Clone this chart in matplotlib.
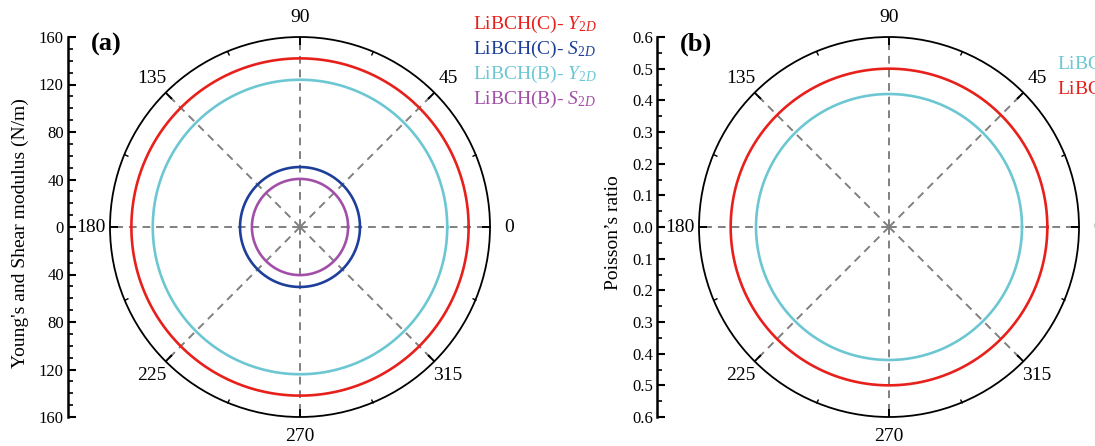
import numpy as np
import matplotlib
matplotlib.use("Agg")
import matplotlib.pyplot as plt

plt.rcParams['font.family'] = ['Liberation Serif', 'DejaVu Serif']
plt.rcParams['mathtext.fontset'] = 'custom'
plt.rcParams['mathtext.rm'] = 'Liberation Serif'
plt.rcParams['mathtext.it'] = 'Liberation Serif:italic'
plt.rcParams['mathtext.bf'] = 'Liberation Serif:bold'

# ---- data ----
angle_labels = ['0', '45', '90', '135', '180', '225', '270', '315']
# panel (a): Young's and shear modulus (N/m), isotropic
mod_series = ['LiBCH(C)- $\\mathit{Y}_{\\mathit{2D}}$', 'LiBCH(C)- $\\mathit{S}_{\\mathit{2D}}$',
              'LiBCH(B)- $\\mathit{Y}_{\\mathit{2D}}$', 'LiBCH(B)- $\\mathit{S}_{\\mathit{2D}}$']
mod_values = [142.0, 50.5, 124.0, 40.5]
mod_colors = ['#E8201C', '#1D3F9A', '#6CC7D3', '#A24FA8']
mod_ticks = [-160, -120, -80, -40, 0, 40, 80, 120, 160]
# panel (b): Poisson's ratio
poi_series = ['LiBCH(B)- $\\nu$', 'LiBCH(C)- $\\nu$']
poi_values = [0.42, 0.50]
poi_colors = ['#6CC7D3', '#E8201C']
poi_ticks = [-0.6, -0.5, -0.4, -0.3, -0.2, -0.1, 0.0, 0.1, 0.2, 0.3, 0.4, 0.5, 0.6]

W, H = 1095, 446
fig = plt.figure(figsize=(W / 100, H / 100), dpi=100)

def fx(px):
    return px / W

def fy(py):
    return 1 - py / H

theta = np.linspace(0, 2 * np.pi, 721)

def make_panel(cx, spine_x, rmax, values, colors, ticks, minor_step, ylabel, ylabel_x, letter, letter_x, fmt):
    R = 190
    bottom = fy(227 + R)
    height = 2 * R / H
    # left scale axis
    axl = fig.add_axes([fx(spine_x), bottom, fx(cx - R - spine_x + 5), height])
    axl.set_ylim(-rmax, rmax)
    axl.set_xlim(0, 1)
    for s in ['top', 'right', 'bottom']:
        axl.spines[s].set_visible(False)
    axl.spines['left'].set_linewidth(1.8)
    axl.set_xticks([])
    axl.set_yticks(ticks)
    axl.set_yticklabels([fmt(abs(t)) for t in ticks])
    axl.set_yticks(np.arange(-rmax, rmax + minor_step / 2, minor_step), minor=True)
    axl.tick_params(axis='y', which='major', direction='in', length=6, width=1.5, labelsize=12, pad=3)
    axl.tick_params(axis='y', which='minor', direction='in', length=3.5, width=1.2)
    axl.patch.set_visible(False)
    fig.text(fx(ylabel_x), fy(233), ylabel, rotation=90, ha='center', va='center', fontsize=14)
    fig.text(fx(letter_x), fy(44), letter, ha='left', va='center', fontsize=19, fontweight='bold')

    # polar axes
    ax = fig.add_axes([fx(cx - R), bottom, 2 * R / W, height], projection='polar')
    ax.patch.set_visible(False)
    ax.set_ylim(0, rmax)
    ax.set_yticks([])
    ax.yaxis.grid(False)
    ax.set_thetagrids(np.arange(0, 360, 45), angle_labels)
    ax.xaxis.grid(True, color='#808080', linestyle=(0, (4, 3)), linewidth=1.4)
    ax.set_xticks(np.deg2rad(np.arange(22.5, 360, 45)), minor=True)
    ax.tick_params(axis='x', which='both', tick1On=False, tick2On=True)
    ax.tick_params(axis='x', which='major', direction='in', length=6, width=1.4, labelsize=14, pad=7)
    ax.tick_params(axis='x', which='minor', direction='in', length=3.5, width=1.0)
    ax.spines['polar'].set_linewidth(1.3)
    for v, c in zip(values, colors):
        ax.plot(theta, np.full_like(theta, v), color=c, linewidth=1.9)
    return ax

make_panel(300, 68, 160, mod_values, mod_colors, mod_ticks, 10,
           "Young's and Shear modulus (N/m)", 20, '(a)', 91, lambda t: f"{int(round(t))}")
make_panel(889, 657, 0.6, poi_values, poi_colors, poi_ticks, 0.05,
           "Poisson\u2019s ratio", 614, '(b)', 680, lambda t: f"{t:.1f}")

# legends as coloured text
for i, (lab, c) in enumerate(zip(mod_series, mod_colors)):
    fig.text(fx(473), fy(24 + 25 * i), lab, color=c, fontsize=14, ha='left', va='center')
for i, (lab, c) in enumerate(zip(poi_series, poi_colors)):
    fig.text(fx(1057), fy(64 + 25 * i), lab, color=c, fontsize=14, ha='left', va='center')

fig.savefig('out.png', dpi=100)
